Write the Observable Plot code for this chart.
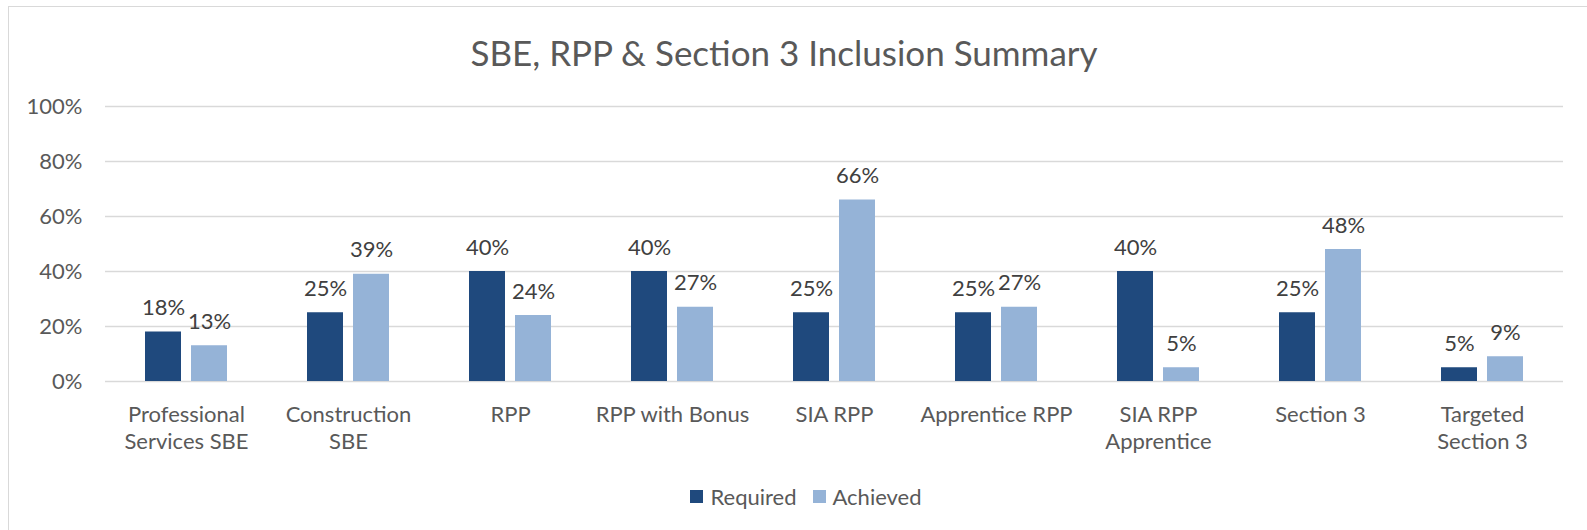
<!DOCTYPE html>
<html><head><meta charset="utf-8">
<script src="https://cdn.jsdelivr.net/npm/d3@7"></script>
<script src="https://cdn.jsdelivr.net/npm/@observablehq/plot@0.6"></script>
<style>
html,body{margin:0;padding:0;overflow:hidden;background:#fff;width:1587px;height:530px;font-family:Lato,sans-serif;}
#frame{position:absolute;left:8px;top:6px;width:1700px;height:700px;border-left:1.5px solid #d9d9d9;border-top:1.5px solid #d9d9d9;}
#title{position:absolute;left:0;width:1568px;top:34px;text-align:center;font-size:35px;line-height:36px;color:#595959;}
#chart{position:absolute;left:0;top:80px;}
#legend{position:absolute;left:0;width:1612px;top:483px;display:flex;justify-content:center;align-items:center;font-size:22px;color:#595959;}
.sw{display:inline-flex;align-items:center;margin:0 8px;}
.sw span.box{display:inline-block;width:13px;height:13px;margin-right:7px;}
</style>
</head><body>
<div id="frame"></div>
<div id="title">SBE, RPP &amp; Section 3 Inclusion Summary</div>
<div id="chart"></div>
<div id="legend"></div>
<script>
const categories = ["Professional\nServices SBE","Construction\nSBE","RPP","RPP with Bonus","SIA RPP","Apprentice RPP","SIA RPP\nApprentice","Section 3","Targeted\nSection 3"];
const series = ["Required","Achieved"];
const required = [0.18,0.25,0.40,0.40,0.25,0.25,0.40,0.25,0.05];
const achieved = [0.13,0.39,0.24,0.27,0.66,0.27,0.05,0.48,0.09];
const colors = ["#1F497D","#95B3D7"];
const yTicks = [0,0.2,0.4,0.6,0.8,1.0];

const data = categories.flatMap((c,i)=>[
  {category:c, series:series[0], value:required[i]},
  {category:c, series:series[1], value:achieved[i]}
]);
const pct = d => Math.round(d*100) + "%";

const plot = Plot.plot({
  width:1587, height:385,
  marginLeft:103, marginRight:23, marginTop:26, marginBottom:84,
  style:{fontFamily:"Lato", fontSize:"22px", color:"#595959", background:"transparent", overflow:"visible"},
  fx:{domain:categories, padding:0, label:null},
  x:{domain:series, paddingInner:0.215, paddingOuter:0.854, axis:null},
  y:{domain:[0,1], label:null},
  color:{domain:series, range:colors},
  marks:[
    Plot.gridY(yTicks, {stroke:"#d9d9d9", strokeOpacity:1, strokeWidth:1.5}),
    Plot.axisY(yTicks, {tickSize:0, tickPadding:23, tickFormat:pct, fill:"#595959", label:null}),
    Plot.axisFx({anchor:"bottom", tickSize:0, tickPadding:21, lineHeight:1.24, fill:"#595959", label:null}),
    Plot.barY(data, {fx:"category", x:"series", y:"value", fill:"series"}),
    Plot.text(data, {fx:"category", x:"series", y:"value", text:d=>pct(d.value), dy:-24, fill:"#404040"})
  ]
});
document.getElementById("chart").appendChild(plot);

const leg = d3.select("#legend");
series.forEach((s,i)=>{
  const sw = leg.append("div").attr("class","sw");
  sw.append("span").attr("class","box").style("background", colors[i]);
  sw.append("span").text(s);
});
</script>
</body></html>
